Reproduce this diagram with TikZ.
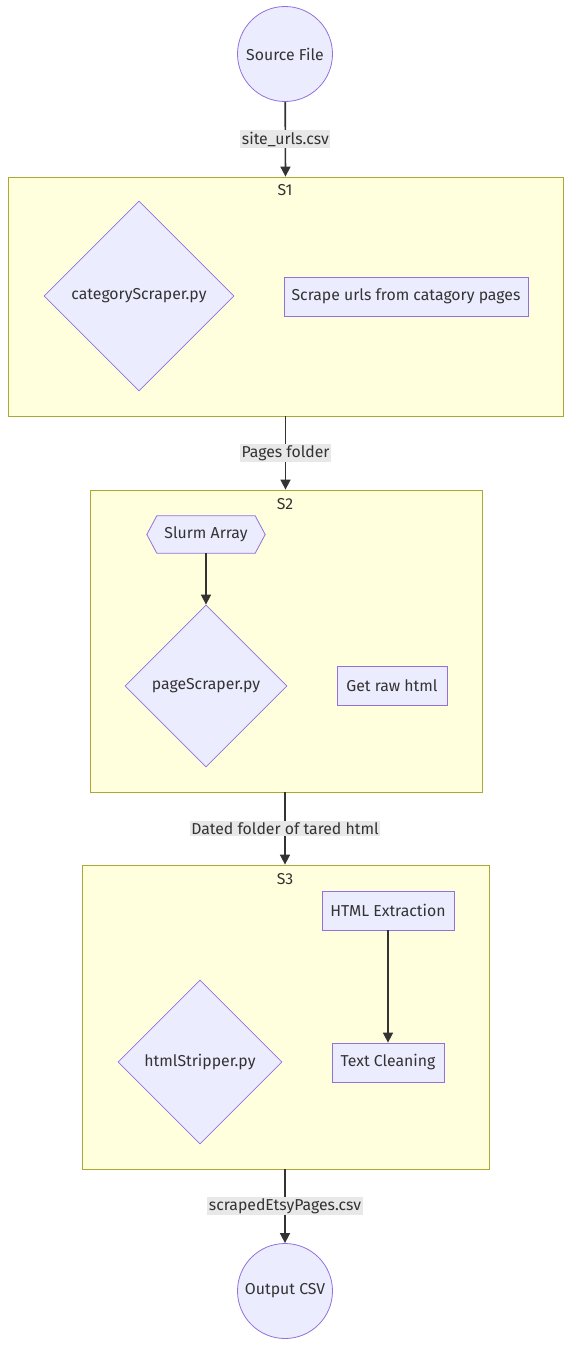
\documentclass[tikz,border=0pt]{standalone}
\usepackage{fontspec}
\setmainfont{Fira Sans}
\usetikzlibrary{shapes.geometric,arrows.meta}
\definecolor{nodefill}{HTML}{ECECFF}
\definecolor{nodeline}{HTML}{9370DB}
\definecolor{clusterfill}{HTML}{FFFFDE}
\definecolor{clusterline}{HTML}{AAAA33}
\definecolor{edgecol}{HTML}{333333}
\definecolor{labelbg}{HTML}{E8E8E8}
\tikzset{
  every node/.style={font=\fontsize{15.8}{18}\selectfont, text=edgecol},
  term/.style={circle, draw=nodeline, fill=nodefill, line width=0.8pt, minimum size=95pt, inner sep=0pt},
  proc/.style={rectangle, draw=nodeline, fill=nodefill, line width=0.8pt, minimum height=39pt, inner xsep=3pt},
  decide/.style={diamond, draw=nodeline, fill=nodefill, line width=0.8pt, inner sep=0pt},
  cluster/.style={rectangle, draw=clusterline, fill=clusterfill, line width=0.8pt, inner sep=0pt},
  ctitle/.style={inner sep=1pt},
  elabel/.style={fill=labelbg, inner sep=1.5pt},
  flow/.style={draw=edgecol, line width=1.6pt, -{Triangle[length=10pt,width=10pt]}},
}
\begin{document}
\begin{tikzpicture}[x=1pt,y=-1pt]
\useasboundingbox (0,0) rectangle (571,1349);
% clusters
\node[cluster, minimum width=555pt, minimum height=239pt] (S1) at (285.5,296.5) {};
\node[ctitle] (S1t) at (285,190) {S1};
\node[cluster, minimum width=392pt, minimum height=302pt] (S2) at (286,641) {};
\node[ctitle] (S2t) at (285,504) {S2};
\node[cluster, minimum width=407pt, minimum height=304pt] (S3) at (285.5,1017) {};
\node[ctitle] (S3t) at (285,879) {S3};
% terminals
\node[term] (src) at (285,54) {Source File};
\node[term] (out) at (285,1291) {Output CSV};
% S1
\node[decide, minimum width=190pt, minimum height=190pt] (cat) at (139,296) {categoryScraper.py};
\node[proc, minimum width=244pt] (scr) at (406,296.5) {Scrape urls from catagory pages};
% S2
\node[minimum width=98pt, minimum height=37pt, inner sep=0pt] (slurm) at (206,534.5) {};
\draw[draw=nodeline, fill=nodefill, line width=0.8pt]
  ([xshift=-10pt]slurm.west) -- (slurm.north west) -- (slurm.north east) -- ([xshift=10pt]slurm.east)
  -- (slurm.south east) -- (slurm.south west) -- cycle;
\node (slurmtext) at (slurm.center) {Slurm Array};
\node[decide, minimum width=162pt, minimum height=162pt] (page) at (206,686) {pageScraper.py};
\node[proc, minimum width=110pt] (raw) at (392,685.5) {Get raw html};
% S3
\node[proc, minimum width=132pt] (ext) at (388,910.5) {HTML Extraction};
\node[proc, minimum width=112pt] (clean) at (388,1062.5) {Text Cleaning};
\node[decide, minimum width=164pt, minimum height=164pt] (strip) at (200,1062) {htmlStripper.py};
% edges
\draw[flow] (src) -- node[elabel] {site\_urls.csv} (S1.north);
\draw[flow] (S1.south) -- node[elabel] {Pages folder} (S2.north -| S1.south);
\draw[flow] (slurm.south) -- (page.north);
\draw[flow] (S2.south -| src.center) -- node[elabel] {Dated folder of tared html} (S3.north -| src.center);
\draw[flow] (ext) -- (clean);
\draw[flow] (S3.south -| src.center) -- node[elabel] {scrapedEtsyPages.csv} (out);
\end{tikzpicture}
\end{document}
